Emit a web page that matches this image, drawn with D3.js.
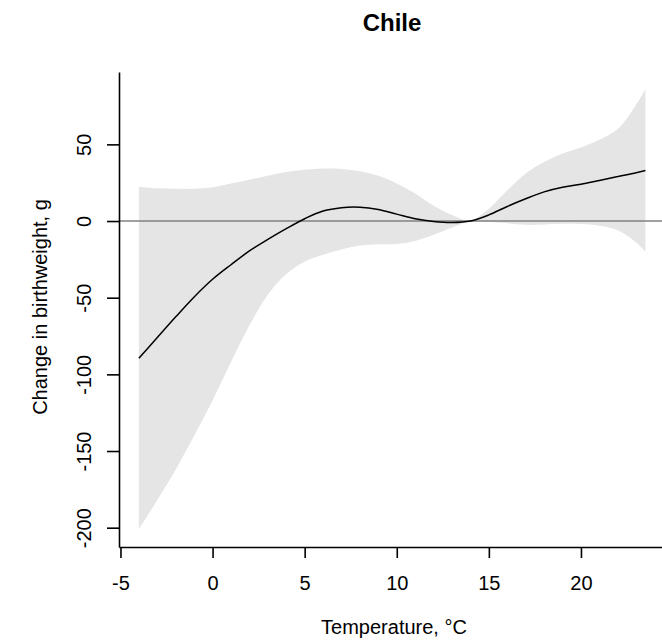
<!DOCTYPE html>
<html>
<head>
<meta charset="utf-8">
<script src="https://cdn.jsdelivr.net/npm/d3@7"></script>
<style>
  body { margin: 0; background: #fff; }
  svg { display: block; font-family: "Liberation Sans", Arial, sans-serif; }
  .axes text { font-size: 20px; fill: #000; }
  .axes line, .axes path { stroke: #000; stroke-width: 1.6; }
</style>
</head>
<body>
<div id="canvas"></div>
<script>
// DATA
const temperature = [-4, -3, -2, -1, 0, 1, 2, 3, 4, 5, 6, 7, 8, 9, 10, 11, 12, 13, 14, 15, 16, 17, 18, 19, 20, 21, 22, 23, 23.5];
const estimate = [-89.5, -76, -62.5, -49.5, -38, -28.5, -19.5, -12, -5, 1.5, 6.5, 8.7, 9, 7.5, 4.5, 1.5, -0.3, -1, 0, 4, 9.5, 14.5, 19, 22, 24, 26.5, 29, 31.5, 33];
const upper = [22.4, 21.3, 21, 21, 22, 24.5, 27, 29.5, 32, 33.5, 34.3, 34, 32.5, 29.5, 24.5, 18, 10, 4, 0.3, 8, 20, 31, 38.5, 44, 48, 53, 60, 76, 86];
const lower = [-201, -182, -162, -140, -117, -92, -68, -48, -34.5, -26.5, -22, -18.5, -16, -15.2, -15, -13, -9, -4.2, -0.3, -0.5, -1.5, -2.5, -2.3, -1.8, -2, -3, -6, -14, -20];

const xTicks = [-5, 0, 5, 10, 15, 20];
const yTicks = [-200, -150, -100, -50, 0, 50];

function drawGraph() {
  // DIMENSIONS
  const width = 662;
  const height = 642;
  const plot = { left: 119, right: 662, top: 72, bottom: 547 };

  const canvas = d3.select("#canvas")
    .append("svg")
    .attr("width", width)
    .attr("height", height);

  // SCALES
  const scaleX = d3.scaleLinear().domain([-5.08, 24.4]).range([plot.left, plot.right]);
  const scaleY = d3.scaleLinear().domain([-212.6, 97.2]).range([plot.bottom, plot.top]);

  const rows = temperature.map((t, i) => ({ t: t, est: estimate[i], lo: lower[i], hi: upper[i] }));

  // CONFIDENCE BAND
  const band = d3.area()
    .x(d => scaleX(d.t))
    .y0(d => scaleY(d.lo))
    .y1(d => scaleY(d.hi))
    .curve(d3.curveCatmullRom);

  canvas.append("path")
    .datum(rows)
    .attr("d", band)
    .attr("fill", "#e5e5e5");

  // ZERO LINE
  canvas.append("line")
    .attr("x1", plot.left).attr("x2", plot.right)
    .attr("y1", scaleY(0)).attr("y2", scaleY(0))
    .attr("stroke", "#808080")
    .attr("stroke-width", 1.5);

  // ESTIMATE
  const line = d3.line()
    .x(d => scaleX(d.t))
    .y(d => scaleY(d.est))
    .curve(d3.curveCatmullRom);

  canvas.append("path")
    .datum(rows)
    .attr("d", line)
    .attr("fill", "none")
    .attr("stroke", "#000")
    .attr("stroke-width", 1.5);

  // AXES
  const plainFormat = d => String(d);

  const xaxis = canvas.append("g")
    .attr("class", "axes")
    .attr("transform", `translate(0, ${plot.bottom})`)
    .call(d3.axisBottom(scaleX).tickValues(xTicks).tickFormat(plainFormat).tickSize(11).tickSizeOuter(0));
  xaxis.selectAll("text").attr("y", 43).attr("dy", 0);

  const yaxis = canvas.append("g")
    .attr("class", "axes")
    .attr("transform", `translate(${plot.left}, 0)`)
    .call(d3.axisLeft(scaleY).tickValues(yTicks).tickFormat(plainFormat).tickSize(12).tickSizeOuter(0));
  yaxis.selectAll("text")
    .attr("x", 0).attr("y", -28).attr("dy", 0)
    .attr("transform", "rotate(-90)")
    .attr("text-anchor", "middle");

  // LABELS
  canvas.append("text")
    .attr("x", 392).attr("y", 31)
    .attr("text-anchor", "middle")
    .style("font-size", "24px")
    .style("font-weight", "bold")
    .text("Chile");

  canvas.append("text")
    .attr("x", 394).attr("y", 634)
    .attr("text-anchor", "middle")
    .style("font-size", "20px")
    .text("Temperature, °C");

  canvas.append("text")
    .attr("transform", "translate(47, 307) rotate(-90)")
    .attr("text-anchor", "middle")
    .style("font-size", "20px")
    .text("Change in birthweight, g");
}

drawGraph();
</script>
</body>
</html>
